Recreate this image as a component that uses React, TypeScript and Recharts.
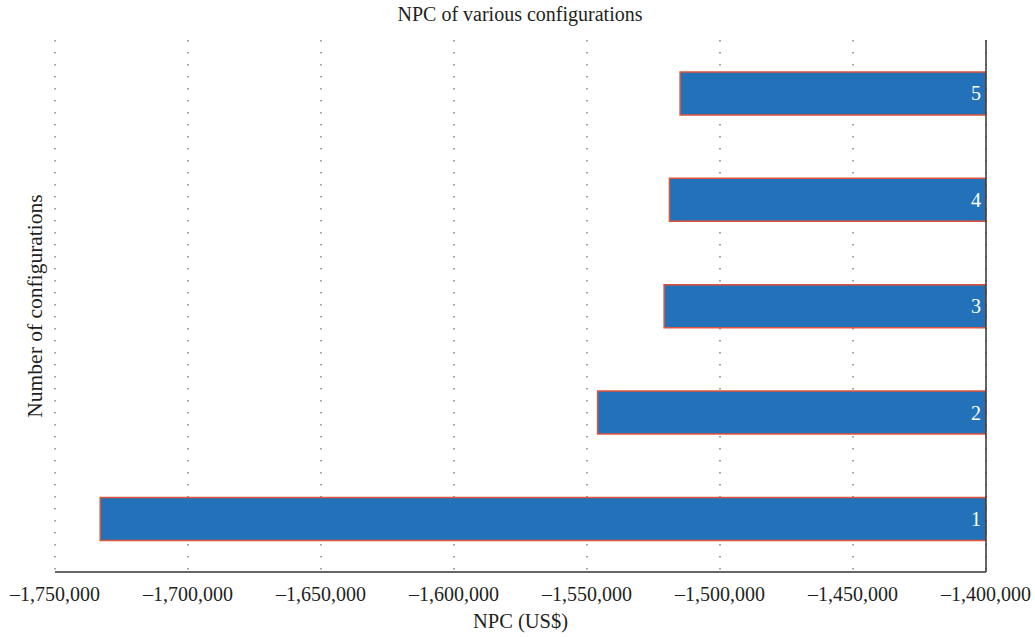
import React from "react";
import { BarChart, Bar, XAxis, YAxis, CartesianGrid, LabelList } from "recharts";

const configurations = ["1", "2", "3", "4", "5"];
const npcValues = [-1733000, -1546000, -1521000, -1519000, -1515000];
const xTicks = [-1750000, -1700000, -1650000, -1600000, -1550000, -1500000, -1450000, -1400000];

const data = configurations.map((name, i) => ({ name, npc: npcValues[i] }));

const FONT = "'Liberation Serif', 'Times New Roman', serif";
const TEXT = "#231f20";

const fmt = (v: number) => "\u2013" + Math.abs(v).toLocaleString("en-US");

const BarLabel = (props: any) => {
  const { x, y, width, height, value } = props;
  const right = Math.max(x, x + width);
  return (
    <text
      x={right - 5}
      y={y + height / 2}
      textAnchor="end"
      dominantBaseline="central"
      fill="#ffffff"
      fontFamily={FONT}
      fontSize={20}
    >
      {value}
    </text>
  );
};

export default function App() {
  return (
    <div style={{ position: "absolute", left: 0, top: 0, width: 1035, height: 637, background: "#fff" }}>
      <BarChart
        width={1035}
        height={637}
        data={data}
        layout="vertical"
        margin={{ top: 40, right: 48, bottom: 0, left: 55 }}
        barCategoryGap="30%"
      >
        <CartesianGrid horizontal={false} vertical={true} stroke="#444" strokeDasharray="1.5 10.5" />
        <XAxis
          type="number"
          domain={[-1750000, -1400000]}
          ticks={xTicks}
          interval={0}
          allowDataOverflow
          tickFormatter={fmt}
          tickLine={false}
          tickMargin={9}
          height={65}
          axisLine={{ stroke: "#333", strokeWidth: 1.5 }}
          tick={{ fill: TEXT, fontFamily: FONT, fontSize: 20 }}
          label={{ value: "NPC (US$)", position: "insideBottom", offset: 9.5, fill: TEXT, fontFamily: FONT, fontSize: 20.5 }}
        />
        <YAxis
          type="category"
          dataKey="name"
          orientation="right"
          reversed
          width={1}
          tick={false}
          tickLine={false}
          axisLine={{ stroke: "#333", strokeWidth: 1.5 }}
        />
        <Bar dataKey="npc" fill="#2372B9" stroke="#E0533A" strokeWidth={1.5} isAnimationActive={false}>
          <LabelList dataKey="name" content={BarLabel} />
        </Bar>
      </BarChart>
      <svg width={1035} height={637} style={{ position: "absolute", left: 0, top: 0, pointerEvents: "none" }}>
        <text x={520} y={20.7} textAnchor="middle" fill={TEXT} fontFamily={FONT} fontSize={20}>
          NPC of various configurations
        </text>
        <text
          x={42}
          y={306}
          textAnchor="middle"
          fill={TEXT}
          fontFamily={FONT}
          fontSize={21.5}
          transform="rotate(-90, 42, 306)"
        >
          Number of configurations
        </text>
      </svg>
    </div>
  );
}
